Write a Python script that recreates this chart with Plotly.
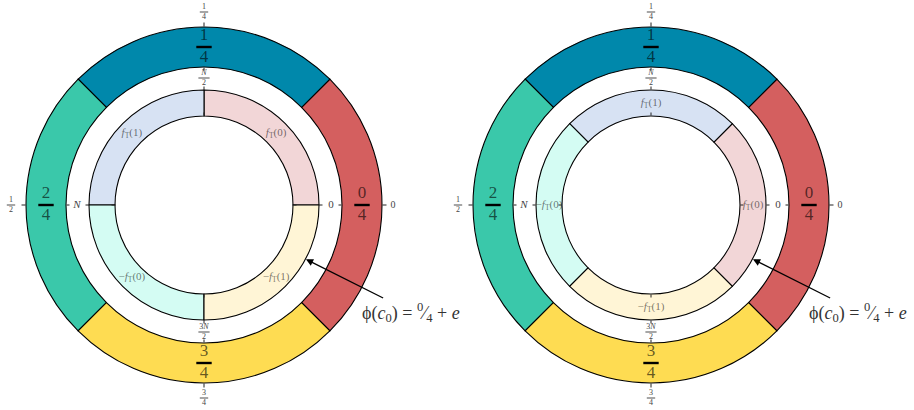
import numpy as np
import plotly.graph_objects as go

W, H = 914, 410

# ---------------- data ----------------
outer_theta = [0, 90, 180, 270]
outer_num = ["0", "1", "2", "3"]
outer_den = ["4", "4", "4", "4"]
outer_colors = ["#D45F5F", "#0088AB", "#3AC8AA", "#FEDC52"]

inner_labels = ["<i>f</i><sub>T</sub>(0)", "<i>f</i><sub>T</sub>(1)",
                "−<i>f</i><sub>T</sub>(0)", "−<i>f</i><sub>T</sub>(1)"]
inner_colors = ["#F2D6D7", "#D7E2F3", "#D4FCF3", "#FFF5D6"]
inner_theta_left = [45, 135, 225, 315]
inner_theta_right = [0, 90, 180, 270]

tick_vals = [0, 90, 180, 270]
outer_tick_num = ["0", "1", "1", "3"]
outer_tick_den = ["", "4", "2", "4"]
inner_tick_num = ["0", "<i>N</i>", "<i>N</i>", "3<i>N</i>"]
inner_tick_den = ["", "2", "", "2"]

arrow_text = "ϕ(<i>c</i><sub>0</sub>) = <sup>0</sup>⁄<sub>4</sub> + <i>e</i>"

# ---------------- geometry / style ----------------
R_DOM = 196
R_OUT, R_OUT_IN = 178, 138
R_IN_OUT, R_IN_IN = 115, 89
R_FRAC, R_TICKLAB, R_INLAB = 158, 127, 102
R_OUTLAB_S, R_OUTLAB_F = 189, 193
centers = [(204, 205), (651, 205)]
FONT = "Liberation Serif"


def dom(cx, cy, r):
    return dict(x=[max(0, (cx - r) / W), min(1, (cx + r) / W)],
                y=[max(0, (H - cy - r) / H), min(1, (H - cy + r) / H)])


def labels(num, den, rs, rf, theta, subplot, size_s, size_f, color, barw, barsize):
    """tick-style labels; fractions drawn stacked with a bar marker"""
    single = [i for i, d in enumerate(den) if d == ""]
    frac = [i for i, d in enumerate(den) if d != ""]
    out = []
    if single:
        out.append(go.Scatterpolar(
            r=[rs] * len(single), theta=[theta[i] for i in single],
            mode="text", text=[num[i] for i in single],
            textfont=dict(family=FONT, size=size_s, color=color),
            subplot=subplot, hoverinfo="skip", cliponaxis=False))
    if frac:
        out.append(go.Scatterpolar(
            r=[rf] * len(frac), theta=[theta[i] for i in frac],
            mode="markers+text", text=[f"{num[i]}<br>{den[i]}" for i in frac],
            textposition="middle center",
            textfont=dict(family=FONT, size=size_f, color=color),
            marker=dict(symbol="line-ew", size=barsize,
                        line=dict(width=barw, color="black")),
            subplot=subplot, hoverinfo="skip", cliponaxis=False))
    return out


fig = go.Figure()
layout = dict(width=W, height=H, margin=dict(l=0, r=0, t=0, b=0),
              paper_bgcolor="white", plot_bgcolor="white", showlegend=False)
annotations = []

pid = 0
for p, (cx, cy) in enumerate(centers):
    inner_theta = inner_theta_left if p == 0 else inner_theta_right
    pid += 1
    main = "polar" if pid == 1 else f"polar{pid}"
    layout[main] = dict(
        domain=dom(cx, cy, R_DOM), bgcolor="rgba(0,0,0,0)",
        radialaxis=dict(range=[0, R_DOM], visible=False),
        angularaxis=dict(showticklabels=False, ticks="",
                         showline=False, showgrid=False))
    fig.add_trace(go.Barpolar(
        r=[R_OUT - R_OUT_IN] * 4, base=[R_OUT_IN] * 4, theta=outer_theta,
        width=[90] * 4, marker=dict(color=outer_colors, line=dict(color="black", width=1.1)),
        subplot=main, hoverinfo="skip"))
    fig.add_trace(go.Barpolar(
        r=[R_IN_OUT - R_IN_IN] * 4, base=[R_IN_IN] * 4, theta=inner_theta,
        width=[90] * 4, marker=dict(color=inner_colors, line=dict(color="black", width=1.1)),
        subplot=main, hoverinfo="skip"))
    # big fractions in the outer ring
    for tr in labels(outer_num, outer_den, R_FRAC, R_FRAC, outer_theta, main, 17, 17,
                     "rgba(0,0,0,0.62)", 2.4, 11):
        fig.add_trace(tr)
    # outer tick labels 0, 1/4, 1/2, 3/4
    for tr in labels(outer_tick_num, outer_tick_den, R_OUTLAB_S, R_OUTLAB_F, tick_vals,
                     main, 10, 8, "#444", 0.7, 6):
        fig.add_trace(tr)
    # inner tick labels 0, N/2, N, 3N/2
    for tr in labels(inner_tick_num, inner_tick_den, R_TICKLAB, R_TICKLAB, tick_vals,
                     main, 11, 8, "#444", 0.7, 8):
        fig.add_trace(tr)
    # inner ring labels
    fig.add_trace(go.Scatterpolar(
        r=[R_INLAB] * 4, theta=inner_theta, mode="text", text=inner_labels,
        textfont=dict(family=FONT, size=11, color="rgba(0,0,0,0.55)"),
        subplot=main, hoverinfo="skip", cliponaxis=False))

    # auxiliary tick circles
    for rad, tdir, tl in ((R_OUT, "outside", 4), (R_OUT_IN, "inside", 3),
                          (R_IN_OUT, "outside", 3), (R_IN_IN, "outside", 3)):
        pid += 1
        name = f"polar{pid}"
        layout[name] = dict(
            domain=dom(cx, cy, rad), bgcolor="rgba(0,0,0,0)",
            radialaxis=dict(range=[0, rad], visible=False),
            angularaxis=dict(tickvals=tick_vals, ticks=tdir, ticklen=tl,
                             tickcolor="#222", showticklabels=False,
                             showline=False, showgrid=False))
        fig.add_trace(go.Scatterpolar(r=[0], theta=[0], mode="markers",
                                      marker=dict(opacity=0), subplot=name,
                                      hoverinfo="skip"))

    # arrow annotation
    ang = np.deg2rad(-28)
    tipx = cx + (R_IN_OUT + 0.5) * np.cos(ang)
    tipy = cy - (R_IN_OUT + 0.5) * np.sin(ang)
    tx, ty = cx + 207, 312
    annotations.append(dict(
        x=tipx / W, y=1 - tipy / H, xref="paper", yref="paper",
        ax=tx - tipx, ay=ty - tipy, text=arrow_text, showarrow=True,
        arrowhead=2, arrowsize=1.1, arrowwidth=1.3, arrowcolor="black",
        font=dict(family=FONT, size=18, color="#333")))

layout["annotations"] = annotations
fig.update_layout(**layout)
fig.write_html("out.html", config={"displayModeBar": False},
               post_script="document.body.style.margin='0';")
